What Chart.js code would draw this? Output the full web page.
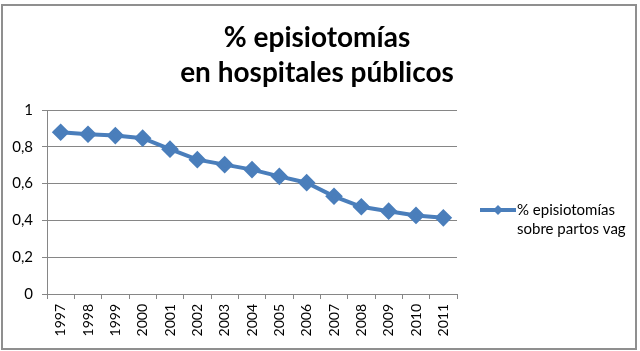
<!DOCTYPE html>
<html><head><meta charset="utf-8">
<script src="https://cdn.jsdelivr.net/npm/chart.js@4/dist/chart.umd.min.js"></script>
<style>
html,body{margin:0;padding:0;background:#fff;}
#wrap{position:relative;width:640px;height:351px;}
#frame{position:absolute;left:1px;top:4px;width:632px;height:342px;border:2px solid #8f8f8f;box-sizing:content-box;pointer-events:none;}
canvas{position:absolute;left:0;top:0;}
</style></head>
<body><div id="wrap"><canvas id="c" width="640" height="351"></canvas><div id="frame"></div></div>
<script>
const years = ['1997','1998','1999','2000','2001','2002','2003','2004','2005','2006','2007','2008','2009','2010','2011'];
const episiotomias = [0.879,0.868,0.861,0.847,0.787,0.730,0.703,0.676,0.639,0.605,0.531,0.474,0.450,0.427,0.414];
const yTicks = [0,0.2,0.4,0.6,0.8,1];
const titleLines = ['% episiotomías','en hospitales públicos'];
const seriesLabel = ['% episiotomías','sobre partos vag'];
const blue = '#4a7ebb';

const legendPlugin = {
  id:'customLegend',
  afterDraw(chart){
    const ctx = chart.ctx;
    const x0 = chart.chartArea.right + 23, y = 210;
    ctx.save();
    ctx.strokeStyle = blue; ctx.lineWidth = 4;
    ctx.beginPath(); ctx.moveTo(x0,y); ctx.lineTo(x0+36,y); ctx.stroke();
    ctx.fillStyle = blue;
    ctx.beginPath(); const cx=x0+18, r=5;
    ctx.moveTo(cx,y-r); ctx.lineTo(cx+r,y); ctx.lineTo(cx,y+r); ctx.lineTo(cx-r,y); ctx.closePath(); ctx.fill();
    ctx.fillStyle = '#000'; ctx.font = '15px Lato'; ctx.textBaseline='middle'; ctx.textAlign='left';
    ctx.fillText(seriesLabel[0], x0+37, y);
    ctx.fillText(seriesLabel[1], x0+37, y+19);
    ctx.restore();
  }
};

new Chart(document.getElementById('c'), {
  type:'line',
  data:{ labels: years, datasets:[{
    label: seriesLabel.join(' '),
    data: episiotomias,
    borderColor: blue, backgroundColor: blue,
    borderWidth: 4, pointStyle:'rectRot', pointRadius:6, pointHoverRadius:6,
    tension:0
  }]},
  options:{
    responsive:false, animation:false,
    layout:{padding:{left:0,right:6,top:0,bottom:7}},
    plugins:{
      legend:{display:false}, tooltip:{enabled:false},
      title:{display:true, text:titleLines, color:'#000',
        font:{family:'Lato', size:28, weight:'bold', lineHeight:'35px'},
        padding:{top:20,bottom:20}}
    },
    scales:{
      x:{ offset:true,
        grid:{offset:true, drawOnChartArea:false, color:'#868686', tickLength:5},
        border:{color:'#868686'},
        ticks:{color:'#000', font:{family:'Lato', size:14}, maxRotation:90, minRotation:90, autoSkip:false, padding:5},
        afterFit(s){ s.height = 50; }
      },
      y:{ min:0, max:1,
        afterBuildTicks(s){ s.ticks = yTicks.map(v=>({value:v})); },
        grid:{color:'#868686', tickLength:5},
        border:{color:'#868686'},
        ticks:{color:'#000', font:{family:'Lato', size:15}, padding:9,
          callback:v=>String(v).replace('.',',')},
        afterFit(s){ s.width = 47; }
      },
      side:{ position:'right', display:true, min:0, max:1,
        grid:{display:false, drawTicks:false}, border:{display:false},
        ticks:{display:false},
        afterFit(s){ s.width = 177; }
      }
    }
  },
  plugins:[legendPlugin]
});
</script></body></html>
